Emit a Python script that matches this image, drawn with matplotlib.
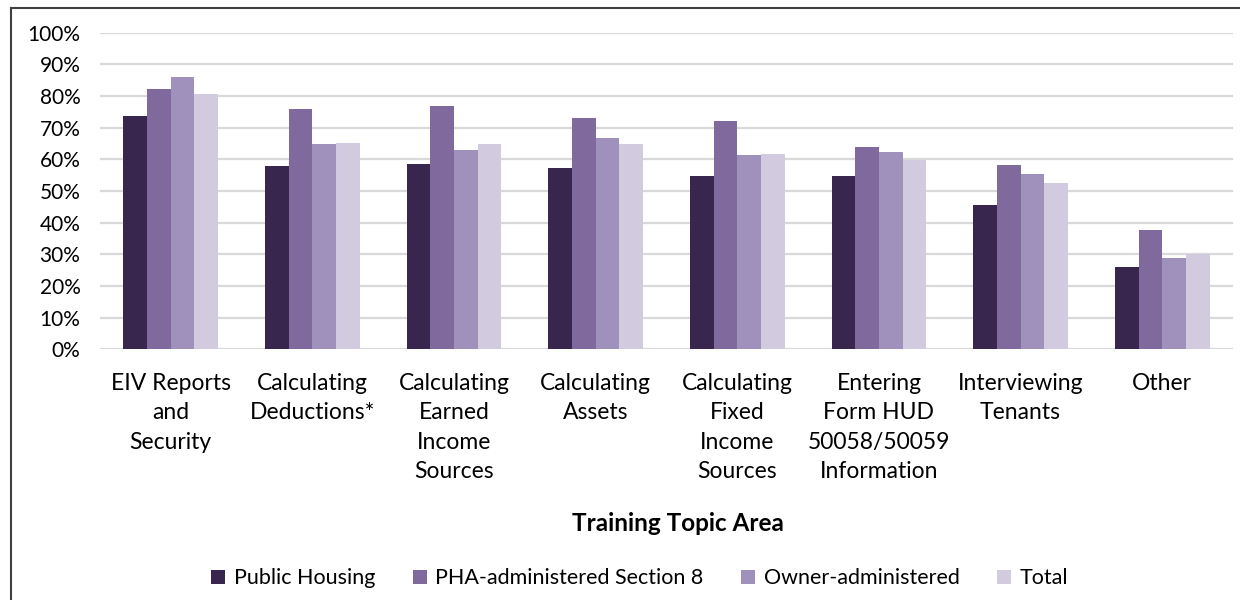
import matplotlib.pyplot as plt
from matplotlib.lines import Line2D
from matplotlib.ticker import PercentFormatter
import numpy as np

plt.rcParams['font.family'] = ['Lato', 'DejaVu Sans']

categories = ["EIV Reports\nand\nSecurity", "Calculating\nDeductions*",
              "Calculating\nEarned\nIncome\nSources", "Calculating\nAssets",
              "Calculating\nFixed\nIncome\nSources",
              "Entering\nForm HUD\n50058/50059\nInformation",
              "Interviewing\nTenants", "Other"]
series = ["Public Housing", "PHA-administered Section 8", "Owner-administered", "Total"]

public_housing = [73.6, 58.0, 58.5, 57.4, 54.6, 54.6, 45.7, 26.1]
pha_section8 = [82.1, 76.0, 76.7, 72.9, 72.1, 63.8, 58.3, 37.6]
owner_admin = [86.1, 64.8, 62.8, 66.6, 61.3, 62.3, 55.5, 28.9]
total = [80.5, 65.3, 64.8, 64.8, 61.7, 59.9, 52.6, 30.1]

colors = ["#38264F", "#7F699D", "#A091BC", "#D2CBE0"]

fig = plt.figure(figsize=(12.4, 6.0), dpi=100)
ax = fig.add_axes([0.0806, 0.418, 0.9138, 0.5275])

x = np.arange(len(categories))
w = 0.167
for i, (name, vals) in enumerate(zip(series, [public_housing, pha_section8, owner_admin, total])):
    ax.bar(x + (i - 1.5) * w, vals, w, color=colors[i], label=name, zorder=3)

ax.set_xlim(-0.5, len(categories) - 0.5)
ax.set_ylim(0, 100)
ax.set_yticks(range(0, 101, 10))
ax.yaxis.set_major_formatter(PercentFormatter(decimals=0))
ax.set_xticks(x)
ax.set_xticklabels(categories, fontsize=16.5, linespacing=1.5)
ax.tick_params(axis='y', labelsize=15, length=0, pad=14)
ax.tick_params(axis='x', length=0, pad=17)
ax.grid(axis='y', color='#D9D9D9', linewidth=1.6, zorder=0)
for s in ax.spines.values():
    s.set_visible(False)

fig.text(0.547, 0.128, "Training Topic Area", ha='center', va='center',
         fontsize=17.5, fontweight='bold')

fig.legend(loc='center', bbox_to_anchor=(0.516, 0.036), ncol=4, frameon=False,
           fontsize=15.5, handlelength=0.65, handleheight=0.65, handletextpad=0.4,
           columnspacing=1.75)

# frame around the chart (left and top edges visible)
fig.add_artist(Line2D([11 / 1240, 11 / 1240], [0, 1 - 7.5 / 600], transform=fig.transFigure,
                      color='#404040', linewidth=1.5))
fig.add_artist(Line2D([11 / 1240, 1], [1 - 7.5 / 600, 1 - 7.5 / 600], transform=fig.transFigure,
                      color='#404040', linewidth=1.5))

fig.savefig("out.png", dpi=100)
